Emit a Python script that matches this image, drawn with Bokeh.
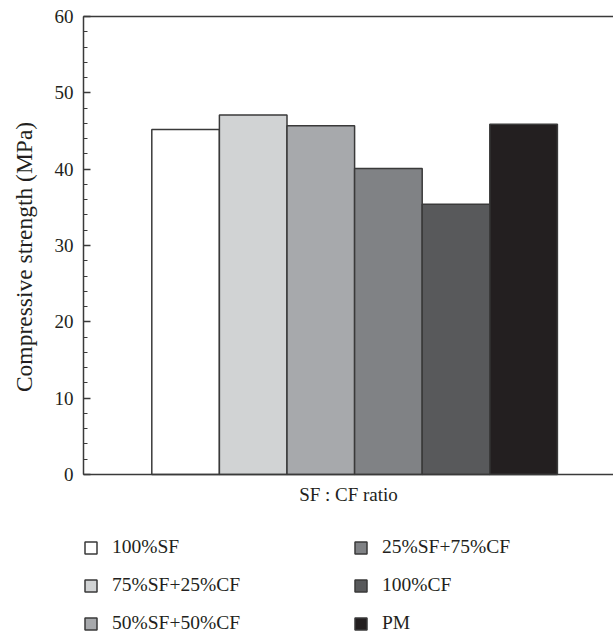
import math
from bokeh.plotting import figure
from bokeh.models import (ColumnDataSource, Range1d, FixedTicker, LinearAxis,
                          Legend, LegendItem, Label)
from bokeh.embed import file_html
from bokeh.resources import INLINE

# ---- data ----
categories = ["100%SF", "75%SF+25%CF", "50%SF+50%CF", "25%SF+75%CF", "100%CF", "PM"]
strength = [45.2, 47.1, 45.7, 40.1, 35.4, 45.9]
bar_colors = ["#ffffff", "#d1d3d4", "#a7a9ac", "#808285", "#58595b", "#231f20"]
y_ticks = [0, 10, 20, 30, 40, 50, 60]
y_minor = list(range(0, 61, 2))
y_min, y_max = 0, 60

FONT = "Liberation Serif"
TXT = "#231f20"
LINE = "#3a3a3a"

# layout geometry (pixels)
W, H = 613, 637
axis_px_x = 83          # position of the value axis
zero_px_y, top_px_y = 474, 16
bar_px = 67.6           # width of one bar
first_bar_px = 185.1    # centre of first bar
x_axis_pos = (axis_px_x - first_bar_px) / bar_px + 1   # data x of value axis

px_per_unit = (zero_px_y - top_px_y) / (y_max - y_min)
x_start = 1 - first_bar_px / bar_px
x_end = 1 + (W - first_bar_px) / bar_px
y_start = y_min - (H - zero_px_y) / px_per_unit
y_end = y_max + top_px_y / px_per_unit

positions = list(range(1, len(categories) + 1))
src = ColumnDataSource(dict(x=positions, top=strength, color=bar_colors, label=categories))

p = figure(width=W, height=H,
           x_range=Range1d(x_start, x_end), y_range=Range1d(y_start, y_end),
           output_backend="svg", toolbar_location=None,
           min_border_left=0, min_border_right=0, min_border_top=0,
           min_border_bottom=0)
p.outline_line_color = None
p.xgrid.visible = False
p.ygrid.visible = False
p.background_fill_color = "white"

r = p.vbar(x="x", top="top", bottom=0, width=1.0, source=src,
           fill_color="color", line_color=LINE, line_width=1.5)

# y axis (fixed inside the frame)
ya = p.yaxis[0]
ya.fixed_location = x_axis_pos
ya.bounds = (y_min, y_max)
ya.ticker = FixedTicker(ticks=y_ticks, minor_ticks=y_minor)
ya.major_label_text_font = FONT
ya.major_label_text_font_size = "19px"
ya.major_label_text_color = TXT
ya.major_label_standoff = 10
ya.major_tick_in = 7
ya.major_tick_out = 0
ya.minor_tick_in = 4
ya.minor_tick_out = 0
ya.axis_line_color = LINE
ya.axis_line_width = 1.5
ya.major_tick_line_color = LINE
ya.major_tick_line_width = 1.3
ya.minor_tick_line_color = LINE
ya.minor_tick_line_width = 1.2

p.add_layout(Label(x=23, y=28.5, x_units="screen", y_units="data",
                   text="Compressive strength (MPa)", angle=math.pi / 2,
                   text_align="center", text_baseline="middle",
                   text_font=FONT, text_font_size="23.5px", text_color=TXT))

# x axis, fixed at y = 0
xa = p.xaxis[0]
xa.fixed_location = 0
xa.bounds = (x_axis_pos, x_end)
xa.ticker = FixedTicker(ticks=[])
xa.axis_label = "SF : CF ratio"
xa.axis_label_text_font = FONT
xa.axis_label_text_font_size = "19px"
xa.axis_label_text_font_style = "normal"
xa.axis_label_text_color = TXT
xa.axis_label_standoff = 9
xa.major_tick_in = 0
xa.major_tick_out = 0
xa.minor_tick_in = 0
xa.minor_tick_out = 0
xa.major_label_text_font_size = "0px"
xa.axis_line_color = LINE
xa.axis_line_width = 1.5

# top border line (an empty axis fixed at the top of the value range)
top_axis = LinearAxis(fixed_location=y_max, bounds=(x_axis_pos, x_end),
                      ticker=FixedTicker(ticks=[]),
                      major_tick_in=0, major_tick_out=0,
                      minor_tick_in=0, minor_tick_out=0,
                      major_label_text_font_size="0px",
                      axis_line_color=LINE, axis_line_width=1.5)
p.add_layout(top_axis, "above")

# legend
items = [LegendItem(label=categories[i], renderers=[r], index=i) for i in range(len(categories))]
legend = Legend(items=items, location=(axis_px_x, 3), orientation="vertical", nrows=3,
                label_text_font=FONT, label_text_font_size="19.5px", label_text_color=TXT,
                glyph_width=15, glyph_height=15, label_standoff=14,
                label_width=225, label_height=20, spacing=16,
                padding=0, margin=0, border_line_color=None,
                background_fill_alpha=0)
p.add_layout(legend, "center")

open("out.html", "w").write(file_html(p, INLINE))
